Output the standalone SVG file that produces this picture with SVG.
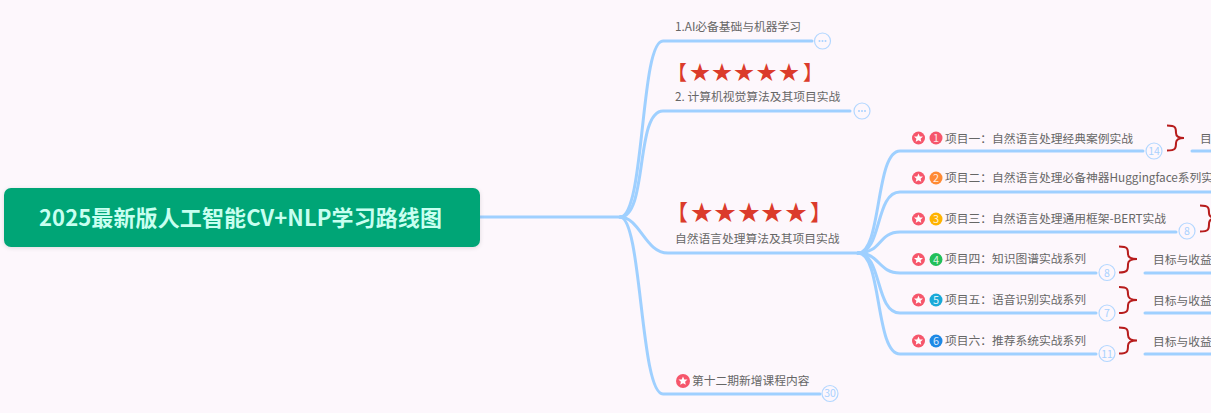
<svg xmlns="http://www.w3.org/2000/svg" width="1211" height="413" viewBox="0 0 1211 413">
<defs>
<filter id="sh" x="-5%" y="-20%" width="110%" height="140%"><feDropShadow dx="0" dy="1" stdDeviation="2" flood-color="#000" flood-opacity="0.12"/></filter>
<polygon id="star" points="0,-4.6 1.3,-1.6 4.5,-1.4 2.1,0.7 2.8,3.8 0,2.2 -2.8,3.8 -2.1,0.7 -4.5,-1.4 -1.3,-1.6" fill="#fff"/>
<g id="dots" fill="#a9d2ff"><circle cx="-3" r="1"/><circle r="1"/><circle cx="3" r="1"/></g>
</defs>
<style>
text{font-family:"Noto Sans CJK SC","Microsoft YaHei","Liberation Sans",sans-serif}
.l{fill:none;stroke:#9fd0ff;stroke-width:3;stroke-linecap:round}
.t{font-size:11.75px;fill:#666}
.s{fill:#db3b2b}
.b{fill:none;stroke:#b71c1c;stroke-width:2}
.c{fill:#fdf7fc;stroke:#b3d7ff;stroke-width:1.2}
.n{font-size:10.5px;fill:#a9d2ff;text-anchor:middle}
.i{font-size:11px;fill:#fff;text-anchor:middle;fill-opacity:.85}
.r{fill:#f6566b}
</style>
<rect width="1211" height="413" fill="#fdf7fc"/>
<g id="connectors">
<path class="l" d="M480 217H620C645 217 640 41 663 41H812"/>
<path class="l" d="M620 217C648 217 635 111 663 111H850"/>
<path class="l" d="M620 217C640 217 645 253 668 253H858"/>
<path class="l" d="M620 217C642 217 640 394 663 394H820"/>
<path class="l" d="M858 253C882 253 875 151 900 151H1143"/>
<path class="l" d="M858 253C882 253 875 192 900 192H1211"/>
<path class="l" d="M858 253C882 253 878 232 900 232H1176"/>
<path class="l" d="M858 253C880 253 878 273 900 273H1096"/>
<path class="l" d="M858 253C882 253 875 313 900 313H1096"/>
<path class="l" d="M858 253C882 253 875 354 900 354H1096"/>
<path class="l" d="M1192 151H1211"/>
<path class="l" d="M1145 273H1211"/>
<path class="l" d="M1145 313H1211"/>
<path class="l" d="M1145 354H1211"/>
</g>
<g id="root">
<rect x="4" y="188" width="476" height="59" rx="7" fill="#00a576" filter="url(#sh)"/>
<text x="39" y="226" textLength="403" font-size="22" font-weight="700" fill="#c8fff0">2025最新版人工智能CV+NLP学习路线图</text>
</g>
<g id="n1">
<text class="t" x="675" y="31">1.AI必备基础与机器学习</text>
<circle class="c" cx="822.500" cy="41" r="8"/><use href="#dots" x="822.500" y="41"/>
</g>
<g id="n2">
<text class="s" y="79.500" font-size="20" x="667 690 712 734 756.500 779 803">【★★★★★】</text>
<text class="t" x="675" y="101">2. 计算机视觉算法及其项目实战</text>
<circle class="c" cx="862" cy="111" r="8"/><use href="#dots" x="862" y="111"/>
</g>
<g id="n3">
<text class="s" y="219.500" font-size="22" x="666 690.700 714 738 761 785 810">【★★★★★】</text>
<text class="t" x="675" y="243">自然语言处理算法及其项目实战</text>
</g>
<g id="n4">
<circle class="r" cx="683" cy="381" r="7"/><use href="#star" x="683" y="381"/>
<text class="t" x="692" y="385">第十二期新增课程内容</text>
<circle class="c" cx="830" cy="393.500" r="8"/><text class="n" x="830" y="397">30</text>
</g>
<g id="p1">
<circle class="r" cx="918.500" cy="138" r="6.500"/><use href="#star" x="918.500" y="138"/>
<circle cx="936" cy="138" r="6.500" fill="#f6566b"/><text class="i" x="936" y="142">1</text>
<text class="t" x="945" y="142.500">项目一：自然语言处理经典案例实战</text>
<circle class="c" cx="1154" cy="151" r="8"/><text class="n" x="1154" y="155">14</text>
<path class="b" d="M1167 125.500C1176 125.500 1176 128 1176 133C1176 136 1178 138 1184 138C1178 138 1176 140 1176 143C1176 148 1176 150.500 1167 150.500"/>
<text class="t" x="1200" y="142.500">目</text>
</g>
<g id="p2">
<circle class="r" cx="918.500" cy="178" r="6.500"/><use href="#star" x="918.500" y="178"/>
<circle cx="936" cy="178" r="6.500" fill="#ff8a34"/><text class="i" x="936" y="182">2</text>
<text class="t" x="945" y="182">项目二：自然语言处理必备神器Huggingface系列实</text>
</g>
<g id="p3">
<circle class="r" cx="918.500" cy="219" r="6.500"/><use href="#star" x="918.500" y="219"/>
<circle cx="936" cy="219" r="6.500" fill="#ffb300"/><text class="i" x="936" y="223">3</text>
<text class="t" x="945" y="223">项目三：自然语言处理通用框架-BERT实战</text>
<circle class="c" cx="1187" cy="231" r="8"/><text class="n" x="1187" y="235">8</text>
<path class="b" d="M1200 205.500C1209 205.500 1209 208 1209 213C1209 216 1211 218 1217 218C1211 218 1209 220 1209 224C1209 229 1209 231.500 1200 231.500"/>
</g>
<g id="p4">
<circle class="r" cx="918.500" cy="259.500" r="6.500"/><use href="#star" x="918.500" y="259.500"/>
<circle cx="936" cy="259.500" r="6.500" fill="#22bf5a"/><text class="i" x="936" y="263.500">4</text>
<text class="t" x="945" y="263">项目四：知识图谱实战系列</text>
<circle class="c" cx="1107" cy="272.500" r="8"/><text class="n" x="1107" y="276.500">8</text>
<path class="b" d="M1119 246.500C1128 246.500 1128 249 1128 254C1128 257 1130 259 1137 259C1130 259 1128 261 1128 264C1128 270 1128 272.500 1119 272.500"/>
<text class="t" x="1153" y="263.500">目标与收益</text>
</g>
<g id="p5">
<circle class="r" cx="918.500" cy="300" r="6.500"/><use href="#star" x="918.500" y="300"/>
<circle cx="936" cy="300" r="6.500" fill="#1aa9d8"/><text class="i" x="936" y="304">5</text>
<text class="t" x="945" y="304">项目五：语音识别实战系列</text>
<circle class="c" cx="1107" cy="313" r="8"/><text class="n" x="1107" y="317">7</text>
<path class="b" d="M1119 287C1128 287 1128 289.500 1128 294.500C1128 297.500 1130 300 1137 300C1130 300 1128 302 1128 305C1128 310.500 1128 313 1119 313"/>
<text class="t" x="1153" y="304.500">目标与收益</text>
</g>
<g id="p6">
<circle class="r" cx="918.500" cy="341" r="6.500"/><use href="#star" x="918.500" y="341"/>
<circle cx="936" cy="341" r="6.500" fill="#1e88e5"/><text class="i" x="936" y="345">6</text>
<text class="t" x="945" y="345">项目六：推荐系统实战系列</text>
<circle class="c" cx="1107" cy="353.500" r="8"/><text class="n" x="1107" y="357.500">11</text>
<path class="b" d="M1119 327.500C1128 327.500 1128 330 1128 335C1128 338 1130 340.500 1137 340.500C1130 340.500 1128 342.500 1128 345.500C1128 351 1128 353.500 1119 353.500"/>
<text class="t" x="1153" y="345.500">目标与收益</text>
</g>
</svg>
